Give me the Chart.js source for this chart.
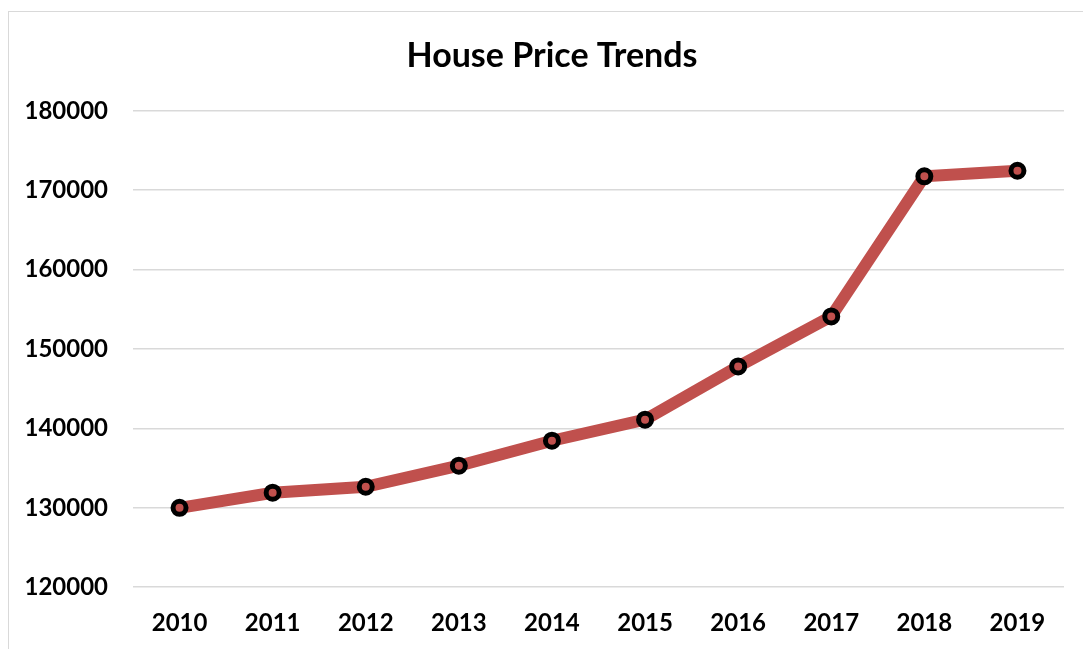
<!DOCTYPE html>
<html>
<head>
<meta charset="utf-8">
<script src="https://cdn.jsdelivr.net/npm/chart.js@4"></script>
<style>
  html, body { margin: 0; padding: 0; background: #fff; overflow: hidden; }
  #box {
    position: absolute; left: 8px; top: 11px;
    width: 1086px; height: 660px;
    border: 1px solid #d9d9d9; box-sizing: border-box;
  }
  #chart { position: absolute; left: 0; top: 0; }
</style>
</head>
<body>
<div id="box"><canvas id="chart" width="1086" height="660"></canvas></div>
<script>
// ===== DATA =====
const years = ["2010", "2011", "2012", "2013", "2014", "2015", "2016", "2017", "2018", "2019"];
const prices = [130000, 131900, 132650, 135300, 138450, 141100, 147800, 154100, 171750, 172450];
const yMin = 120000;
const yMax = 180000;
const yStep = 10000;

const FONT = "Lato, 'Open Sans', sans-serif";
const RED = "#C0504D";

const ctx = document.getElementById("chart").getContext("2d");
new Chart(ctx, {
  type: "line",
  data: {
    labels: years,
    datasets: [
      {
        label: "House Price",
        data: prices,
        borderColor: RED,
        borderWidth: 12,
        tension: 0,
        pointRadius: 6.5,
        pointBorderWidth: 5,
        pointBackgroundColor: RED,
        pointBorderColor: "#000",
      },
    ],
  },
  options: {
    responsive: false,
    animation: false,
    layout: { padding: { left: 0, right: 0, top: 0, bottom: 12 } },
    plugins: {
      legend: { display: false },
      tooltip: { enabled: false },
      title: {
        display: true,
        text: "House Price Trends",
        color: "#000",
        font: { family: FONT, size: 34, weight: "bold" },
        padding: { top: 24, bottom: 34 },
      },
    },
    scales: {
      x: {
        offset: true,
        grid: { display: false, drawTicks: false },
        border: { display: false },
        ticks: {
          color: "#000",
          padding: 22,
          font: { family: FONT, size: 24, weight: "bold" },
        },
      },
      y: {
        min: yMin,
        max: yMax,
        grid: { color: "#d9d9d9", lineWidth: 1.5, drawTicks: false },
        border: { display: false },
        ticks: {
          stepSize: yStep,
          color: "#000",
          padding: 25,
          font: { family: FONT, size: 24, weight: "bold" },
          callback: (v) => String(v),
        },
        afterFit: (scale) => { scale.width = 124; },
      },
      // empty right-hand axis, only reserves the gap after the plot
      spacer: {
        position: "right",
        grid: { display: false, drawTicks: false },
        border: { display: false },
        ticks: { display: false },
        afterFit: (scale) => { scale.width = 31; },
      },
    },
  },
});
</script>
</body>
</html>
